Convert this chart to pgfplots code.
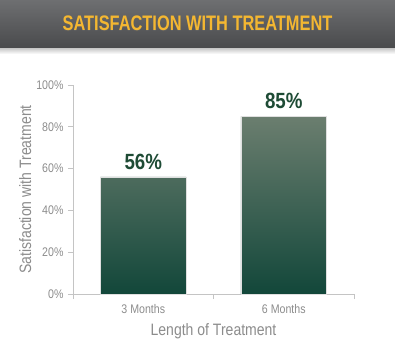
\documentclass[border=0pt]{standalone}
\usepackage{fontspec}
\setmainfont{Liberation Sans}[FakeStretch=0.85]
\newfontfamily\titlefont{Liberation Sans}[FakeStretch=0.78]
\usepackage{pgfplots}
\pgfplotsset{compat=1.18}
\definecolor{txtgray}{HTML}{8C8C8C}
\definecolor{axgray}{HTML}{C4C4C4}
\definecolor{banTop}{HTML}{6E6F71}
\definecolor{banBot}{HTML}{4A4B4D}
\definecolor{titleY}{HTML}{F4B731}
\definecolor{barTop}{HTML}{6B7E6F}
\definecolor{barBot}{HTML}{12473A}
\definecolor{lblGreen}{HTML}{1E4B35}
\begin{document}
\begin{tikzpicture}
\path (0pt,0pt) rectangle (395pt,357pt);
\shade[top color=black!30, bottom color=white] (0pt,303pt) rectangle (395pt,311pt);
\shade[top color=banTop, bottom color=banBot] (0pt,310pt) rectangle (395pt,357pt);
\node[text=black!60, opacity=0.5] at (197.5pt,332.5pt) {\titlefont\bfseries\fontsize{21}{21}\selectfont SATISFACTION WITH TREATMENT};
\node[text=titleY] at (197.5pt,333.5pt) {\titlefont\bfseries\fontsize{21}{21}\selectfont SATISFACTION WITH TREATMENT};
\begin{axis}[
  at={(73pt,63pt)}, anchor=south west,
  scale only axis, width=281pt, height=209pt,
  ymin=0, ymax=100, xmin=-0.5, xmax=1.5,
  axis x line*=bottom, axis y line*=left,
  axis line style={draw=axgray, line width=0.8pt},
  ytick={0,20,...,100},
  yticklabel={\pgfmathprintnumber{\tick}\%},
  xtick={0,1}, xticklabels={3 Months, 6 Months},
  major x tick style={draw=none},
  minor xtick={-0.5,0.5,1.5},
  tick align=outside, major tick length=5pt, minor tick length=5pt,
  tick style={draw=axgray, line width=0.8pt},
  /pgf/number format/assume math mode=true,
  ticklabel style={text=txtgray, font=\fontsize{12.5}{13}\selectfont},
  yticklabel style={xshift=-1pt},
  xticklabel style={yshift=-2pt},
  xlabel={Length of Treatment}, ylabel={Satisfaction with Treatment},
  label style={text=txtgray, font=\fontsize{16.5}{17}\selectfont},
  xlabel style={at={(axis description cs:0.5,-0.18)}, anchor=center},
  ylabel style={at={(axis description cs:-0.17,0.5)}, anchor=center},
]
\addplot[ybar, bar width=0.61, draw=white!75!gray, line width=0.4pt,
  top color=barTop, bottom color=barBot,
  nodes near coords={\pgfmathprintnumber{\pgfplotspointmeta}\%},
  nodes near coords style={font=\bfseries\fontsize{22}{22}\selectfont, text=lblGreen, anchor=south, yshift=4pt}]
  coordinates {(0,56) (1,85)};
\end{axis}
\end{tikzpicture}
\end{document}
